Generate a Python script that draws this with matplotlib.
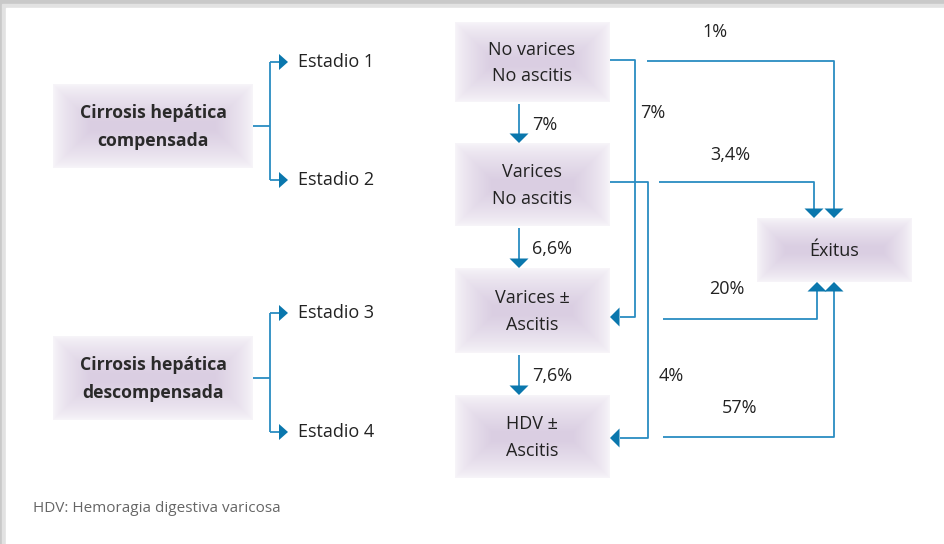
import numpy as np
import matplotlib.pyplot as plt
from matplotlib.patches import Polygon, Rectangle

plt.rcParams['font.family'] = ['Open Sans', 'DejaVu Sans']

# chart content
group_labels = ['Cirrosis hepática\ncompensada', 'Cirrosis hepática\ndescompensada']
stage_labels = ['Estadio 1', 'Estadio 2', 'Estadio 3', 'Estadio 4']
state_labels = ['No varices\nNo ascitis', 'Varices\nNo ascitis', 'Varices ±\nAscitis', 'HDV ±\nAscitis']
progression = ['7%', '6,6%', '7,6%']     # between consecutive states
skip_labels = ['7%', '4%']               # state 1 -> 3, state 2 -> 4
death_labels = ['1%', '3,4%', '20%', '57%']
outcome_label = 'Éxitus'
note = 'HDV: Hemoragia digestiva varicosa'

LINE = '#2a8cc2'
HEAD = '#0a77ad'
TXT = '#222222'

W, H = 944, 544
fig = plt.figure(figsize=(W / 100, H / 100), dpi=100)
fig.patch.set_facecolor('#c9c9c9')
ax = fig.add_axes([0, 0, 1, 1])
ax.set_xlim(0, W)
ax.set_ylim(H, 0)
ax.axis('off')

# page with shadow
for i, c in enumerate(['#bdbdbd', '#cfcfcf', '#e2e2e2']):
    ax.add_patch(Rectangle((5 - i * 1.5, 7 - i * 1.5), W, H, color=c, zorder=0))
ax.add_patch(Rectangle((6, 8), W, H, color='white', zorder=0))


def soft_box(x0, y0, x1, y1):
    w, h = int(x1 - x0), int(y1 - y0)
    feather = 0.45 * min(w, h)
    xs = np.arange(w) + 0.5
    ys = np.arange(h) + 0.5
    dx = np.minimum(xs, w - xs)[None, :]
    dy = np.minimum(ys, h - ys)[:, None]
    t = np.clip(np.minimum(dx, dy) / feather, 0, 1)
    a = 0.18 + 0.82 * t ** 0.7
    img = np.zeros((h, w, 4))
    img[..., 0] = 0.855
    img[..., 1] = 0.81
    img[..., 2] = 0.89
    img[..., 3] = a
    ax.imshow(img, extent=(x0, x1, y1, y0), aspect='auto', zorder=1,
              interpolation='bilinear')


def head(x, y, d, size=9.5, half=9.5):
    if d == 'down':
        pts = [(x - half, y - size), (x + half, y - size), (x, y)]
    elif d == 'up':
        pts = [(x - half, y + size), (x + half, y + size), (x, y)]
    elif d == 'left':
        pts = [(x + size, y - half), (x + size, y + half), (x, y)]
    else:
        pts = [(x - size, y - half), (x - size, y + half), (x, y)]
    ax.add_patch(Polygon(pts, closed=True, color=HEAD, lw=0, zorder=4))


def path(xs, ys):
    ax.plot(xs, ys, color=LINE, lw=1.3, zorder=3, solid_capstyle='butt')


# left groups with brackets
group_y = [126, 378]
stage_y = [62, 180, 313, 432]
for g, gy in enumerate(group_y):
    soft_box(53, gy - 42, 253, gy + 42)
    ax.text(153, gy + 1, group_labels[g], ha='center', va='center', fontsize=12.7,
            fontweight='bold', color='#2a2a2a', linespacing=1.65)
    ya, yb = stage_y[2 * g], stage_y[2 * g + 1]
    path([253, 270], [gy, gy])
    path([270, 270], [ya, yb])
    for sy in (ya, yb):
        path([270, 280], [sy, sy])
        head(288, sy, 'right', size=9, half=8)

for s, sy in enumerate(stage_y):
    ax.text(298, sy, stage_labels[s], ha='left', va='center', fontsize=13,
            color=TXT)

# central states
state_box = [(22, 102), (143, 226), (268, 353), (395, 478)]
for s, (y0, y1) in enumerate(state_box):
    soft_box(455, y0, 610, y1)
    ax.text(532, (y0 + y1) / 2 + 1, state_labels[s], ha='center', va='center',
            fontsize=13, color=TXT, linespacing=1.6)

for k, lab in enumerate(progression):
    y0 = state_box[k][1] + 2
    y1 = state_box[k + 1][0]
    path([519, 519], [y0, y1 - 8])
    head(519, y1, 'down')
    ax.text(532, (y0 + y1) / 2 + 1, lab, ha='left', va='center', fontsize=13,
            color=TXT)

# skip transitions
skip_x = [635, 648]
skip_src_y = [60, 182]
skip_dst_y = [317, 438]
for k, lab in enumerate(skip_labels):
    xv = skip_x[k]
    path([610, xv, xv, 620], [skip_src_y[k], skip_src_y[k], skip_dst_y[k], skip_dst_y[k]])
    head(610, skip_dst_y[k], 'left')
skip_label_y = [113, 376]
ax.text(640, skip_label_y[0], skip_labels[0], ha='left', va='center', fontsize=13, color=TXT)
ax.text(659, skip_label_y[1], skip_labels[1], ha='left', va='center', fontsize=13, color=TXT)

# death outcome
soft_box(757, 218, 912, 282)
ax.text(834, 251, outcome_label, ha='center', va='center', fontsize=13, color=TXT)

death_src = [(647, 61), (659, 182), (663, 319), (663, 437)]
death_x = [834, 814, 817, 834]
death_lab_pos = [(715, 32), (730, 155), (727, 289), (740, 408)]
for k, lab in enumerate(death_labels):
    sx, sy = death_src[k]
    ex = death_x[k]
    if k < 2:
        path([sx, ex, ex], [sy, sy, 209])
        head(ex, 218, 'down')
    else:
        path([sx, ex, ex], [sy, sy, 291])
        head(ex, 282, 'up')
    lx, ly = death_lab_pos[k]
    ax.text(lx, ly, lab, ha='center', va='center', fontsize=13, color=TXT)

ax.text(33, 508, note, ha='left', va='center', fontsize=11, color='#666666')

fig.savefig('out.png', dpi=100, facecolor=fig.get_facecolor())
